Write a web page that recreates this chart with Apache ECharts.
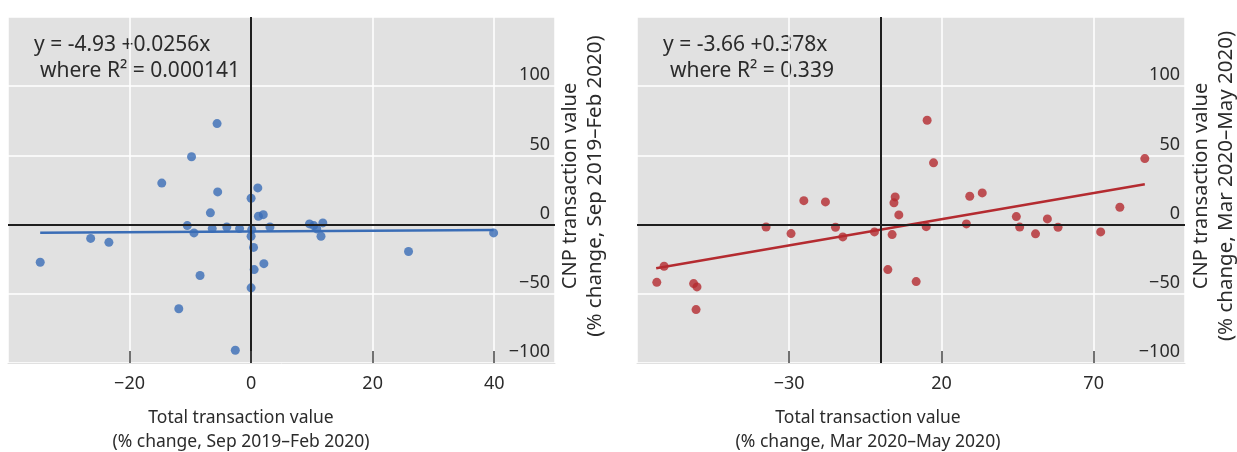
<!DOCTYPE html>
<html>
<head>
<meta charset="utf-8">
<script src="https://cdn.jsdelivr.net/npm/echarts@6/dist/echarts.min.js"></script>
<style>
  html, body { margin: 0; padding: 0; background: #fff; }
  #chart { width: 1237px; height: 452px; }
</style>
</head>
<body>
<div id="chart"></div>
<script>
    // before the pandemic: Sep 2019 - Feb 2020
    var preData = [
        [-34.7, -27.2], [-26.4, -10.0], [-23.4, -12.8], [-14.7, 30.0], [-11.9, -60.8],
        [-10.5, -0.7], [-9.4, -6.0], [-9.8, 49.0], [-5.6, 73.0], [-5.5, 23.6],
        [1.1, 26.5], [0.0, 19.0], [-6.7, 8.5], [1.2, 6.0], [2.0, 7.2],
        [-6.4, -2.9], [-4.0, -1.7], [-1.9, -2.9], [0.1, -3.6], [0.0, -8.4],
        [0.4, -16.5], [0.5, -32.5], [2.1, -28.2], [-8.4, -36.8], [0.0, -45.7],
        [-2.6, -90.8], [3.1, -1.7], [9.6, 0.5], [10.3, -0.7], [10.8, -3.1],
        [11.8, 1.2], [11.5, -8.4], [25.9, -19.4], [39.9, -6.0]
    ];
    var preFit = [[-34.7, -5.8], [39.9, -3.9]];

    // pandemic: Mar 2020 - May 2020
    var postData = [
        [-73.5, -41.7], [-71.1, -30.1], [-61.4, -42.6], [-60.3, -45.0], [-60.6, -61.4],
        [-37.6, -1.7], [-29.4, -6.5], [-25.2, 17.3], [-18.1, 16.4], [-14.8, -1.9],
        [-12.4, -8.9], [-2.0, -5.3], [2.4, -32.5], [3.8, -7.2], [4.4, 15.7],
        [4.8, 20.0], [6.0, 7.0], [11.7, -41.2], [15.0, -1.5], [15.3, 75.4],
        [17.4, 44.6], [28.2, 0.5], [29.3, 20.5], [33.4, 22.9], [44.6, 5.8],
        [45.7, -1.8], [50.9, -6.7], [54.8, 4.1], [58.3, -1.9], [72.3, -5.3],
        [78.6, 12.5], [86.8, 47.7]
    ];
    var postFit = [[-73.7, -31.5], [86.8, 29.2]];

    var preEquation = ['y = -4.93 +0.0256x', 'where R\u00b2 = 0.000141'];
    var postEquation = ['y = -3.66 +0.378x', 'where R\u00b2 = 0.339'];
    var xTitle = 'Total transaction value';
    var yTitle = 'CNP transaction value';
    var preRange = '(% change, Sep 2019\u2013Feb 2020)';
    var postRange = '(% change, Mar 2020\u2013May 2020)';

    var FONT = 'Noto Sans';
    var TXT = '#2b2b2b';
    var blue = '#3a6db6';
    var red = '#b42b30';

    function minus(v) { return String(v).replace('-', '\u2212'); }

    // axis with labels and ticks, drawn above the grid lines
    function xAxis(idx, min, max, interval) {
        return {
            type: 'value', gridIndex: idx, min: min, max: max, interval: interval,
            position: 'bottom', z: 10,
            axisLine: {show: true, onZero: false, lineStyle: {color: '#e1e1e1', width: 1}},
            axisTick: {show: true, inside: true, length: 12, lineStyle: {color: '#444', width: 1.5}},
            axisLabel: {showMinLabel: false, showMaxLabel: false, margin: 12, fontSize: 18,
                fontFamily: FONT, color: TXT, formatter: minus},
            splitLine: {show: false}
        };
    }
    // second axis on the same grid only for the white grid lines
    function xGrid(idx, min, max, interval) {
        return {
            type: 'value', gridIndex: idx, min: min, max: max, interval: interval,
            position: 'top', z: 0,
            axisLine: {show: false, onZero: false}, axisTick: {show: false}, axisLabel: {show: false},
            splitLine: {show: true, lineStyle: {color: '#fff', width: 1.5}}
        };
    }
    function yAxis(idx) {
        return {
            type: 'value', gridIndex: idx, min: -100, max: 150, interval: 50, position: 'right',
            axisLine: {show: false, onZero: false},
            axisTick: {show: false},
            axisLabel: {inside: true, showMaxLabel: false, margin: 5, verticalAlign: 'bottom',
                padding: [0, 0, 2, 0], fontSize: 18, fontFamily: FONT, color: TXT, formatter: minus},
            splitLine: {show: true, lineStyle: {color: '#fff', width: 1.5}}
        };
    }
    function zeroLines(idx) {
        return {
            type: 'line', xAxisIndex: idx, yAxisIndex: idx, data: [], z: 1, silent: true,
            markLine: {
                silent: true, symbol: ['none', 'none'], label: {show: false},
                lineStyle: {color: '#1e1e1e', width: 2, type: 'solid'},
                data: [{xAxis: 0}, {yAxis: 0}]
            }
        };
    }
    function txt(x, y, text, size, opts) {
        var o = {
            type: 'text', x: x, y: y,
            style: {text: text, fontSize: size, fontFamily: FONT, fill: TXT,
                textAlign: 'left', textVerticalAlign: 'middle'}
        };
        if (opts && opts.rotate) o.rotation = Math.PI / 2;
        if (opts && opts.align) o.style.textAlign = opts.align;
        return o;
    }

    var chart = echarts.init(document.getElementById('chart'));
    var option = {
        animation: false,
        grid: [
            {left: 8, top: 17, width: 547, height: 346, show: true, backgroundColor: '#e1e1e1', borderWidth: 0, z: -1},
            {left: 637, top: 17, width: 548, height: 346, show: true, backgroundColor: '#e1e1e1', borderWidth: 0, z: -1}
        ],
        xAxis: [xAxis(0, -40, 50, 20), xAxis(1, -80, 100, 50), xGrid(0, -40, 50, 20), xGrid(1, -80, 100, 50)],
        yAxis: [yAxis(0), yAxis(1)],
        series: [
            zeroLines(0),
            zeroLines(1),
            {type: 'line', xAxisIndex: 0, yAxisIndex: 0, data: preFit, symbol: 'none', z: 2,
                lineStyle: {color: blue, width: 2.5}},
            {type: 'line', xAxisIndex: 1, yAxisIndex: 1, data: postFit, symbol: 'none', z: 2,
                lineStyle: {color: red, width: 2.5}},
            {type: 'scatter', xAxisIndex: 0, yAxisIndex: 0, data: preData, symbolSize: 9, z: 3,
                itemStyle: {color: blue}},
            {type: 'scatter', xAxisIndex: 1, yAxisIndex: 1, data: postData, symbolSize: 9, z: 3,
                itemStyle: {color: red}}
        ],
        graphic: [
            txt(34, 45, preEquation[0], 21),
            txt(40, 71, preEquation[1], 21),
            txt(663, 45, postEquation[0], 21),
            txt(670, 71, postEquation[1], 21),
            txt(241, 418, xTitle, 17.5, {align: 'center'}),
            txt(241, 442, preRange, 17.5, {align: 'center'}),
            txt(868, 418, xTitle, 17.5, {align: 'center'}),
            txt(868, 442, postRange, 17.5, {align: 'center'}),
            txt(570, 186, yTitle, 20, {align: 'center', rotate: true}),
            txt(595, 186, preRange, 20.5, {align: 'center', rotate: true}),
            txt(1201, 186, yTitle, 20, {align: 'center', rotate: true}),
            txt(1226, 186, postRange, 20.5, {align: 'center', rotate: true})
        ]
    };
    chart.setOption(option);
    window.addEventListener('resize', chart.resize);
</script>
</body>
</html>
